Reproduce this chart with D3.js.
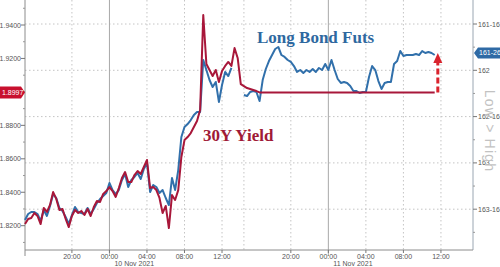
<!DOCTYPE html>
<html><head><meta charset="utf-8">
<script src="https://cdn.jsdelivr.net/npm/d3@7"></script>
<style>html,body{margin:0;padding:0;background:#fff;overflow:hidden}svg{display:block}</style>
</head><body><svg id="chart" width="500" height="267"></svg>
<script>
// ---- data (20-minute samples from 9 Nov 2021 15:00) ----
const sampleMinutes = 20;
const startTime = new Date(2021, 10, 9, 15, 0);
const skipIndex = 70;      // compressed period on the axis (10 Nov 14:20-15:00)
const skipMinutes = 40;

// 30Y yield (left axis)
const yieldValues = [
1.8210,1.8240,1.8246,1.8276,1.8258,1.8210,1.8306,1.8282,1.8324,1.8401,
1.8360,1.8294,1.8300,1.8240,1.8192,1.8258,1.8294,1.8276,1.8288,1.8264,
1.8300,1.8258,1.8312,1.8348,1.8342,1.8390,1.8407,1.8431,1.8407,1.8372,
1.8425,1.8485,1.8521,1.8461,1.8461,1.8503,1.8527,1.8509,1.8551,1.8593,
1.8425,1.8431,1.8413,1.8366,1.8276,1.8318,1.8186,1.8383,1.8354,1.8413,
1.8611,1.8712,1.8730,1.8754,1.8790,1.8826,1.8892,1.9460,1.9167,1.9131,
1.9095,1.9131,1.9059,1.9125,1.9155,1.9179,1.9155,1.9262,1.9203,1.9047,
1.9035,1.9023,1.9017,1.9011,1.9005,1.8997,1.8997,1.8997,1.8997,1.8997,
1.8997,1.8997,1.8997,1.8997,1.8997,1.8997,1.8997,1.8997,1.8997,1.8997,
1.8997,1.8997,1.8997,1.8997,1.8997,1.8997,1.8997,1.8997,1.8997,1.8997,
1.8997,1.8997,1.8997,1.8997,1.8997,1.8997,1.8997,1.8997,1.8997,1.8997,
1.8997,1.8997,1.8997,1.8997,1.8997,1.8997,1.8997,1.8997,1.8997,1.8997,
1.8997,1.8997,1.8997,1.8997,1.8997,1.8997,1.8997,1.8997,1.8997,1.8997,
1.8997,1.8997
];

// Long bond futures price (right axis, inverted)
const futValues = [
163.617,163.552,163.530,163.530,163.552,163.627,163.509,163.573,163.465,163.336,
163.379,163.487,163.519,163.584,163.660,163.563,163.476,163.530,163.541,163.552,
163.487,163.552,163.498,163.433,163.390,163.357,163.325,163.217,163.293,163.336,
163.293,163.185,163.120,163.260,163.185,163.152,163.109,163.174,163.066,163.001,
163.314,163.239,163.260,163.325,163.293,163.379,163.455,163.163,163.293,163.077,
162.720,162.612,162.580,162.537,162.483,162.450,162.450,161.889,161.997,162.105,
162.180,162.126,162.342,162.159,162.018,162.062,161.975,null,null,null,
162.267,162.278,162.234,162.224,162.234,162.332,162.105,161.986,161.900,161.835,
161.770,161.748,161.835,161.856,161.889,161.910,161.954,162.018,161.997,162.029,
161.997,162.018,161.986,162.018,161.975,161.997,161.932,161.997,161.889,161.997,
162.094,162.137,162.126,162.137,162.170,162.224,162.224,162.245,162.234,162.234,
162.072,161.954,161.997,162.116,162.202,162.137,162.126,162.126,161.932,161.900,
161.792,161.846,161.835,161.835,161.835,161.824,161.835,161.792,161.813,161.802,
161.813,161.835
];

const leftTicks = [1.82, 1.84, 1.86, 1.88, 1.90, 1.92, 1.94];
const leftMinor = [1.81,1.83,1.85,1.87,1.89,1.91,1.93,1.95];
const rightTicks = [161.5, 162, 162.5, 163, 163.5];
const rightMinor = [161.25,161.75,162.25,162.75,163.25,163.75];
const labelHours = [0, 4, 8, 12, 20];
const lastYield = 1.8997;
const lastFut = 161.8125;
const lastIndex = 143.25;

// ---- layout ----
const W = 500, H = 267;
const L = 25, R = 473, T = 0, B = 250;
const svg = d3.select("#chart");

const timeAt = i => new Date(startTime.getTime() + (i * sampleMinutes + (i >= skipIndex ? skipMinutes : 0)) * 60000);

const x = d3.scaleLinear().domain([0, lastIndex]).range([L, R]);
const yL = d3.scaleLinear().domain([1.82, 1.94]).range([225.7, 25]);
const yR = d3.scaleLinear().domain([161.5, 163.5]).range([24, 209.2]);

const fmt32 = p => { const n = Math.floor(p); const f = Math.round((p - n) * 32); return f === 0 ? String(n) : n + "-" + String(f).padStart(2, "0"); };
const fmtTime = d3.timeFormat("%H:%M");
const fmtDay = d3.timeFormat("%-d %b %Y");

// tick indices
const tickIdx = [];
const dayIdx = [];
for (let i = 0; i <= Math.floor(lastIndex); i++) {
  const t = timeAt(i);
  if (t.getMinutes() === 0 && labelHours.includes(t.getHours())) tickIdx.push(i);
  if (t.getMinutes() === 0 && t.getHours() === 0) dayIdx.push(i);
}

const grid = svg.append("g");
grid.selectAll("line.h").data(rightTicks).join("line")
  .attr("x1", L).attr("x2", R).attr("y1", d => yR(d)).attr("y2", d => yR(d))
  .attr("stroke", "#c4c4c4").attr("stroke-width", 1).attr("stroke-dasharray", "1.5,2.5");
grid.selectAll("line.v").data(tickIdx.filter(i => !dayIdx.includes(i)).concat([skipIndex])).join("line")
  .attr("x1", d => x(d)).attr("x2", d => x(d)).attr("y1", T).attr("y2", B)
  .attr("stroke", "#c4c4c4").attr("stroke-width", 1).attr("stroke-dasharray", "1.5,2.5");
grid.selectAll("line.d").data(dayIdx).join("line")
  .attr("x1", d => x(d)).attr("x2", d => x(d)).attr("y1", T).attr("y2", B + 6)
  .attr("stroke", "#a8a8a8").attr("stroke-width", 1);

// axes lines
svg.append("line").attr("x1", L).attr("x2", L).attr("y1", T).attr("y2", B + 6).attr("stroke", "#8c8c8c");
svg.append("line").attr("x1", R).attr("x2", R).attr("y1", T).attr("y2", B).attr("stroke", "#9aa6b2");
svg.append("line").attr("x1", L).attr("x2", R).attr("y1", B).attr("y2", B).attr("stroke", "#8c8c8c");

const tf = "Liberation Sans, Arial, sans-serif";
// left axis
const la = svg.append("g");
la.selectAll("line.mj").data(leftTicks).join("line")
  .attr("x1", L - 4).attr("x2", L).attr("y1", d => yL(d)).attr("y2", d => yL(d)).attr("stroke", "#777");
la.selectAll("line.mn").data(leftMinor.filter(d => yL(d) > 2 && yL(d) < B)).join("line")
  .attr("x1", L - 2).attr("x2", L).attr("y1", d => yL(d)).attr("y2", d => yL(d)).attr("stroke", "#999");
la.selectAll("text").data(leftTicks.filter(d => Math.abs(d - lastYield) > 0.005)).join("text")
  .attr("x", L - 4).attr("y", d => yL(d) + 2.5).attr("text-anchor", "end")
  .attr("font-family", tf).attr("font-size", 7).attr("fill", "#555")
  .text(d => d.toFixed(4));

// right axis
const ra = svg.append("g");
ra.selectAll("line.mj").data(rightTicks).join("line")
  .attr("x1", R).attr("x2", R + 4).attr("y1", d => yR(d)).attr("y2", d => yR(d)).attr("stroke", "#777");
ra.selectAll("line.mn").data(rightMinor.filter(d => yR(d) > 2 && yR(d) < B)).join("line")
  .attr("x1", R).attr("x2", R + 2).attr("y1", d => yR(d)).attr("y2", d => yR(d)).attr("stroke", "#999");
ra.selectAll("text").data(rightTicks).join("text")
  .attr("x", R + 5).attr("y", d => yR(d) + 2.5)
  .attr("font-family", tf).attr("font-size", 7).attr("fill", "#555")
  .text(d => fmt32(d));

// bottom axis
const ba = svg.append("g");
ba.selectAll("line").data(tickIdx).join("line")
  .attr("x1", d => x(d)).attr("x2", d => x(d)).attr("y1", B).attr("y2", B + 3).attr("stroke", "#777");
ba.selectAll("text.t").data(tickIdx).join("text")
  .attr("x", d => x(d)).attr("y", B + 8.5).attr("text-anchor", "middle")
  .attr("font-family", tf).attr("font-size", 7).attr("fill", "#555")
  .text(d => fmtTime(timeAt(d)));
ba.selectAll("text.d").data(dayIdx).join("text")
  .attr("x", d => x(d) + 5).attr("y", B + 16)
  .attr("font-family", tf).attr("font-size", 7).attr("fill", "#555")
  .text(d => fmtDay(timeAt(d)));

// series
const futLine = d3.line().defined(d => d != null).x((d, i) => x(i)).y(d => yR(d));
const yldLine = d3.line().x((d, i) => x(i)).y(d => yL(d));
svg.append("path").datum(futValues).attr("d", futLine)
  .attr("fill", "none").attr("stroke", "#3170ab").attr("stroke-width", 2).attr("stroke-linejoin", "round");
svg.append("path").datum(yieldValues).attr("d", yldLine)
  .attr("fill", "none").attr("stroke", "#a8173a").attr("stroke-width", 2).attr("stroke-linejoin", "round");

// annotation arrow
const ax = x(futValues.length);
const aTop = yR(lastFut), aBot = yL(lastYield);
svg.append("line").attr("x1", ax).attr("x2", ax).attr("y1", aBot).attr("y2", aTop + 9)
  .attr("stroke", "#d9232d").attr("stroke-width", 3).attr("stroke-dasharray", "6,3");
svg.append("path").attr("d", `M${ax},${aTop} L${ax - 4.5},${aTop + 10} L${ax + 4.5},${aTop + 10} Z`).attr("fill", "#d9232d");

// labels
svg.append("text").attr("x", 257).attr("y", 43)
  .attr("font-family", "Liberation Serif, Times New Roman, serif").attr("font-weight", "bold").attr("font-size", 17)
  .attr("fill", "#2e68a0").text("Long Bond Futs");
svg.append("text").attr("x", 203).attr("y", 141)
  .attr("font-family", "Liberation Serif, Times New Roman, serif").attr("font-weight", "bold").attr("font-size", 17)
  .attr("fill", "#a01a36").text("30Y Yield");

svg.append("text").attr("transform", "translate(485,131) rotate(90)").attr("text-anchor", "middle")
  .attr("font-family", tf).attr("font-size", 14).attr("letter-spacing", 1.2)
  .attr("fill", "#c2c2c2").text("Low > High");

// last-value badges
const ly = yL(lastYield);
svg.append("path").attr("d", `M0,${ly - 6} L${L - 4},${ly - 6} L${L},${ly} L${L - 4},${ly + 6} L0,${ly + 6} Z`).attr("fill", "#c8102e");
svg.append("text").attr("x", 2).attr("y", ly + 2.5).attr("font-family", tf).attr("font-size", 7).attr("fill", "#fff").text(lastYield.toFixed(4));
const ry = yR(lastFut);
svg.append("path").attr("d", `M${R + 1},${ry} L${R + 5},${ry - 5.5} L${W},${ry - 5.5} L${W},${ry + 5.5} L${R + 5},${ry + 5.5} Z`).attr("fill", "#2f6aa5");
svg.append("text").attr("x", R + 6).attr("y", ry + 2.5).attr("font-family", tf).attr("font-size", 7).attr("fill", "#fff").text(fmt32(lastFut));
</script></body></html>
